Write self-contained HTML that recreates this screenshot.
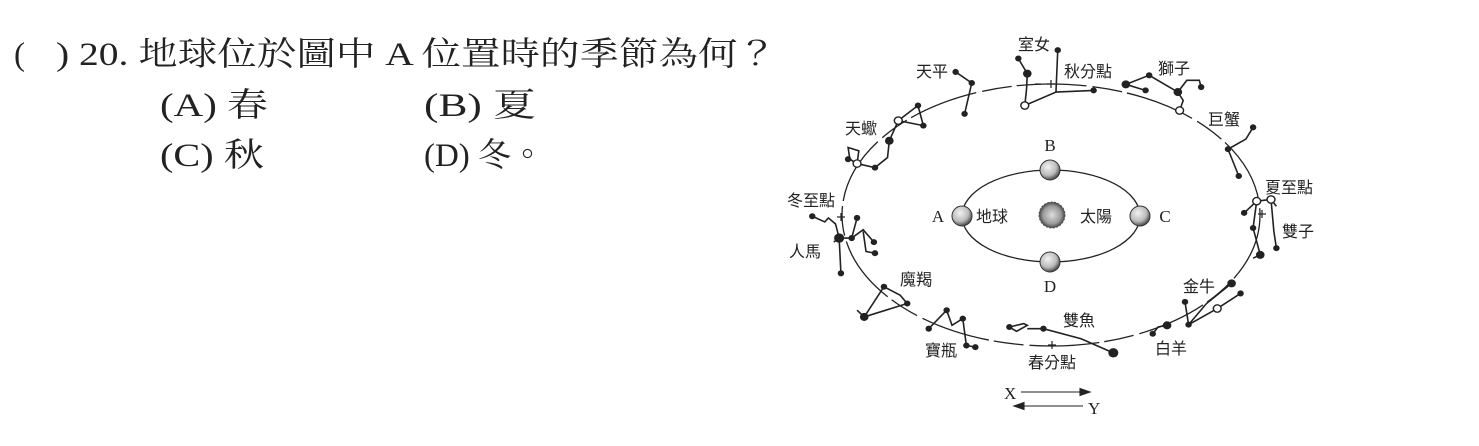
<!DOCTYPE html>
<html><head><meta charset="utf-8"><style>
html,body{margin:0;padding:0;background:#fff;}
svg{display:block;}
.q{font-family:"Liberation Serif","Noto Serif CJK TC",serif;font-size:33px;fill:#222;}
.l{font-family:"Liberation Sans","Noto Sans CJK TC",sans-serif;font-size:16px;fill:#222;}
.s{font-family:"Liberation Serif",serif;font-size:17px;fill:#222;}
.c{fill:none;stroke:#222;stroke-width:1.6;}
</style></head><body>
<svg width="1479" height="446" viewBox="0 0 1479 446" xmlns="http://www.w3.org/2000/svg">
<defs>
<radialGradient id="sun" cx="50%" cy="50%" r="50%"><stop offset="0" stop-color="#ddd"/><stop offset="0.7" stop-color="#999"/><stop offset="1" stop-color="#444"/></radialGradient>
<radialGradient id="earth" cx="40%" cy="35%" r="70%"><stop offset="0" stop-color="#f2f2f2"/><stop offset="0.6" stop-color="#bbb"/><stop offset="1" stop-color="#333"/></radialGradient>
</defs>
<text class="q" x="14" y="65">(</text>
<text class="q" x="56" y="65" textLength="721" lengthAdjust="spacingAndGlyphs">) 20. 地球位於圖中 A 位置時的季節為何？</text>
<text class="q" x="160" y="116" textLength="108" lengthAdjust="spacingAndGlyphs">(A) 春</text>
<text class="q" x="424" y="116" textLength="112" lengthAdjust="spacingAndGlyphs">(B) 夏</text>
<text class="q" x="160" y="166" textLength="104" lengthAdjust="spacingAndGlyphs">(C) 秋</text>
<text class="q" x="424" y="166" textLength="120" lengthAdjust="spacingAndGlyphs">(D) 冬。</text>

<ellipse cx="1051" cy="215" rx="209" ry="131" fill="none" stroke="#222" stroke-width="1.3" stroke-dasharray="70 6 30 5"/>
<ellipse cx="1051" cy="216" rx="89" ry="46" fill="none" stroke="#222" stroke-width="1.3"/>
<circle cx="1052" cy="215" r="13" fill="url(#sun)" stroke="#555" stroke-width="1" stroke-dasharray="2 1.5"/>
<g stroke="#333" stroke-width="1">
<circle cx="962" cy="216" r="10" fill="url(#earth)"/>
<circle cx="1050" cy="170" r="10" fill="url(#earth)"/>
<circle cx="1140" cy="216" r="10" fill="url(#earth)"/>
<circle cx="1050" cy="262" r="10" fill="url(#earth)"/>
</g>
<text class="s" x="1050" y="151" text-anchor="middle">B</text>
<text class="s" x="1050" y="292" text-anchor="middle">D</text>
<text class="s" x="938" y="222" text-anchor="middle">A</text>
<text class="s" x="1165" y="222" text-anchor="middle">C</text>
<text class="l" x="976" y="222">地球</text>
<text class="l" x="1080" y="222">太陽</text>

<g transform="translate(780,30) scale(0.3584,0.3356)">
<g class="c">
<polyline vector-effect="non-scaling-stroke" points="665,85 690,130 688,175 683,225 770,185 775,60"/>
<polyline vector-effect="non-scaling-stroke" points="770,185 875,180"/>
<polyline vector-effect="non-scaling-stroke" points="490,125 535,158 515,250"/>
<polyline vector-effect="non-scaling-stroke" points="330,270 385,225 400,285 330,270 305,330 300,380 265,410 215,398 195,385 190,350 220,360 215,398"/>
<polyline vector-effect="non-scaling-stroke" points="1020,180 965,162 1030,135 1110,185 1125,210 1115,240"/>
<polyline vector-effect="non-scaling-stroke" points="1110,185 1135,150 1170,150 1175,170"/>
<polyline vector-effect="non-scaling-stroke" points="1320,290 1300,325 1250,355 1280,435"/>
<polyline vector-effect="non-scaling-stroke" points="1295,545 1330,510 1370,505 1385,525"/>
<polyline vector-effect="non-scaling-stroke" points="1330,510 1320,590 1340,670 1320,680"/>
<polyline vector-effect="non-scaling-stroke" points="1370,505 1378,600 1385,650"/>
<polyline vector-effect="non-scaling-stroke" points="90,555 125,572 135,560 155,578 165,620 170,725"/>
<polyline vector-effect="non-scaling-stroke" points="150,632 165,620 200,620 215,560"/>
<polyline vector-effect="non-scaling-stroke" points="200,620 232,595 262,632"/>
<polyline vector-effect="non-scaling-stroke" points="232,600 240,660 265,665"/>
<polyline vector-effect="non-scaling-stroke" points="290,765 335,790 355,815 235,855 290,765"/>
<polyline vector-effect="non-scaling-stroke" points="215,835 235,855"/>
<polyline vector-effect="non-scaling-stroke" points="415,890 465,835 480,880 510,860 520,940 545,945"/>
<polyline vector-effect="non-scaling-stroke" points="640,885 660,898 690,880 680,875 640,885"/>
<polyline vector-effect="non-scaling-stroke" points="690,890 735,890 840,920 930,962"/>
<polyline vector-effect="non-scaling-stroke" points="1040,905 1055,885 1080,880"/>
<polyline vector-effect="non-scaling-stroke" points="1260,755 1190,815 1140,878 1130,810"/>
<polyline vector-effect="non-scaling-stroke" points="1140,878 1220,830 1285,785"/>
</g>
<g fill="#222">
<circle cx="665" cy="85" r="9"/><circle cx="690" cy="130" r="12"/><circle cx="775" cy="60" r="9"/><circle cx="875" cy="180" r="9"/>
<circle cx="490" cy="125" r="9"/><circle cx="535" cy="158" r="9"/><circle cx="515" cy="250" r="9"/>
<circle cx="385" cy="225" r="9"/><circle cx="400" cy="285" r="9"/><circle cx="305" cy="330" r="12"/><circle cx="265" cy="410" r="9"/><circle cx="190" cy="385" r="9"/>
<circle cx="965" cy="162" r="12"/><circle cx="1030" cy="135" r="9"/><circle cx="1110" cy="185" r="12"/><circle cx="1175" cy="170" r="9"/><circle cx="1020" cy="180" r="9"/>
<circle cx="1320" cy="290" r="9"/><circle cx="1250" cy="355" r="9"/><circle cx="1280" cy="435" r="9"/>
<circle cx="1295" cy="545" r="9"/><circle cx="1340" cy="670" r="12"/><circle cx="1385" cy="650" r="9"/><circle cx="1320" cy="590" r="9"/>
<circle cx="90" cy="555" r="9"/><circle cx="165" cy="620" r="14"/><circle cx="170" cy="725" r="9"/><circle cx="215" cy="560" r="9"/><circle cx="262" cy="632" r="9"/><circle cx="265" cy="665" r="9"/><circle cx="200" cy="620" r="9"/>
<circle cx="290" cy="765" r="9"/><circle cx="355" cy="815" r="9"/><circle cx="235" cy="855" r="12"/>
<circle cx="415" cy="890" r="9"/><circle cx="465" cy="835" r="9"/><circle cx="510" cy="860" r="9"/><circle cx="545" cy="945" r="9"/><circle cx="520" cy="940" r="9"/>
<circle cx="640" cy="885" r="9"/><circle cx="735" cy="890" r="9"/><circle cx="930" cy="962" r="14"/>
<circle cx="1040" cy="905" r="9"/><circle cx="1080" cy="880" r="12"/>
<circle cx="1260" cy="755" r="12"/><circle cx="1130" cy="810" r="9"/><circle cx="1140" cy="878" r="9"/><circle cx="1285" cy="785" r="9"/>
</g>
<g fill="#fff" stroke="#222" stroke-width="4">
<circle cx="683" cy="225" r="11"/><circle cx="330" cy="270" r="11"/><circle cx="215" cy="398" r="11"/><circle cx="1115" cy="240" r="11"/>
<circle cx="1330" cy="510" r="11"/><circle cx="1370" cy="505" r="11"/><circle cx="1220" cy="830" r="11"/>
</g>
</g>
<g stroke="#222" stroke-width="1.2">
<line x1="1047" y1="84" x2="1055" y2="84"/><line x1="1051" y1="80" x2="1051" y2="88"/>
<line x1="1035" y1="84" x2="1041" y2="84"/>
<line x1="1048" y1="345" x2="1056" y2="345"/><line x1="1052" y1="341" x2="1052" y2="349"/>
<line x1="837" y1="217" x2="845" y2="217"/><line x1="841" y1="213" x2="841" y2="221"/>
<line x1="1258" y1="214" x2="1266" y2="214"/><line x1="1262" y1="210" x2="1262" y2="218"/>
</g>
<g class="l" text-anchor="middle">
<text x="1034" y="50">室女</text>
<text x="1088" y="77">秋分點</text>
<text x="932" y="77">天平</text>
<text x="1174" y="74">獅子</text>
<text x="1224" y="125">巨蟹</text>
<text x="861" y="134">天蠍</text>
<text x="1289" y="193">夏至點</text>
<text x="811" y="206">冬至點</text>
<text x="1298" y="237">雙子</text>
<text x="805" y="257">人馬</text>
<text x="1199" y="292">金牛</text>
<text x="916" y="285">魔羯</text>
<text x="1079" y="326">雙魚</text>
<text x="941" y="356">寶瓶</text>
<text x="1052" y="368">春分點</text>
<text x="1171" y="354">白羊</text>
</g>
<text class="s" x="1004" y="399">X</text>
<text class="s" x="1088" y="414">Y</text>
<g stroke="#222" stroke-width="1.1" fill="#222">
<line x1="1021" y1="392" x2="1086" y2="392"/>
<polygon points="1090,392 1080,388.5 1080,395.5"/>
<line x1="1018" y1="406" x2="1083" y2="406"/>
<polygon points="1014,406 1024,402.5 1024,409.5"/>
</g>
</svg>
</body></html>
